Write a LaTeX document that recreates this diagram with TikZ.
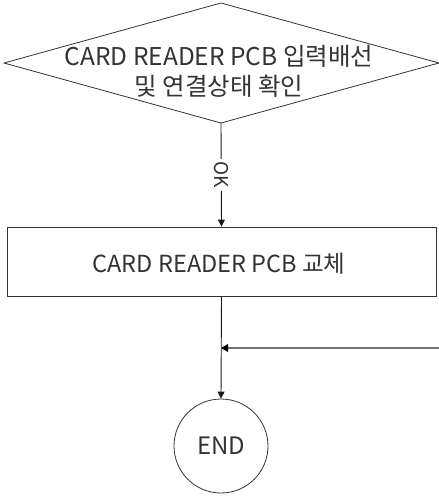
\documentclass[tikz,border=0pt]{standalone}
\usepackage{fontspec}
\setmainfont{Noto Sans CJK KR}
\usetikzlibrary{shapes.geometric,arrows.meta}
\begin{document}
\begin{tikzpicture}[x=1pt,y=-1pt,
  box/.style={draw=black!80,line width=0.8pt},
  conn/.style={draw=black!90,line width=0.9pt,-{Triangle[length=7pt,width=7pt]}},
  lbl/.style={text=black!80}]
\useasboundingbox (0,0) rectangle (439,499);
\path[box] (221,3) coordinate (dt) -- (439,63) coordinate (dr) -- (221,123) coordinate (db) -- (4,63) coordinate (dl) -- cycle;
\node[lbl,align=center,font=\fontsize{24.5}{30}\selectfont] (dtext) at (219,71) {CARD READER PCB 입력배선\\및 연결상태 확인};
\node[box,minimum width=429pt,minimum height=69pt,inner sep=0pt] (rect) at (221.5,261.5) {};
\node[lbl,font=\fontsize{23.5}{28}\selectfont] (rtext) at (219,264) {CARD READER PCB 교체};
\node[box,circle,minimum size=94pt,inner sep=0pt,lbl,font=\fontsize{24}{28}\selectfont] (end) at (221,446) {END};
\draw[conn] (db) -- node[fill=white,rotate=-90,font=\fontsize{19}{22}\selectfont,inner sep=3pt,text=black!80] (ok) {OK} (rect.north);
\coordinate (join) at (221,348);
\coordinate (rin) at (439,348);
\draw[conn] (rect.south) -- (end.north);
\draw[conn,draw=black!55,fill=black!90,line width=1.3pt,-{Triangle[length=7pt,width=8pt,line width=0pt,fill=black]}] (rin) -- (join);
\end{tikzpicture}
\end{document}
